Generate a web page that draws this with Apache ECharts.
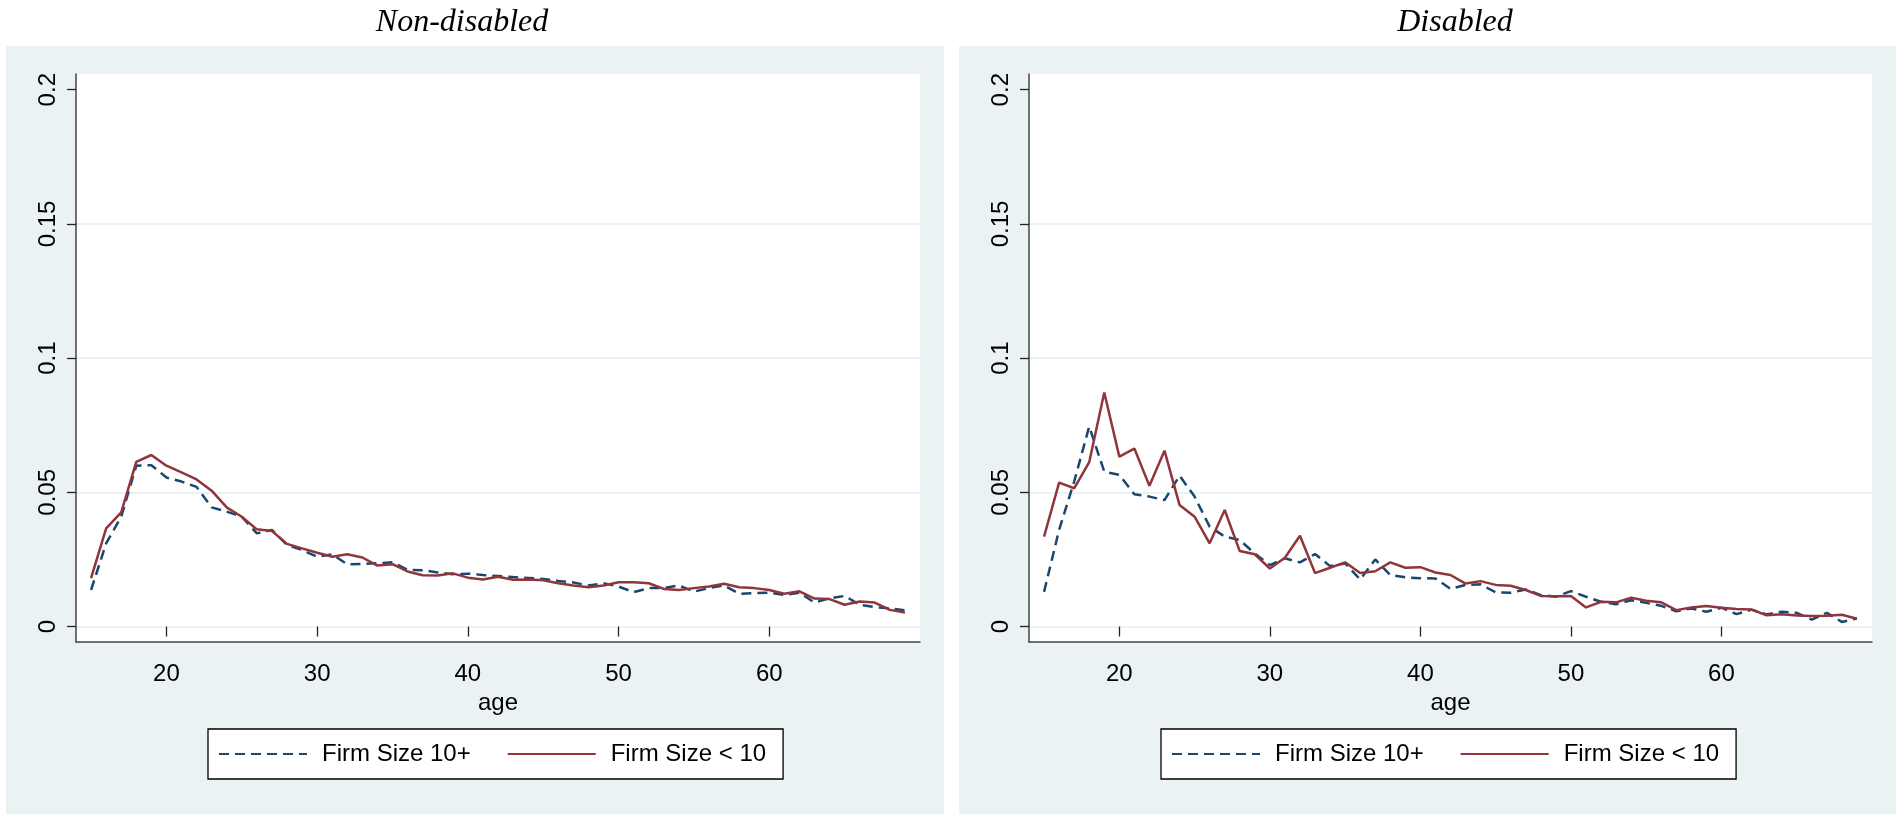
<!DOCTYPE html>
<html>
<head>
<meta charset="utf-8">
<title>Firm size by age</title>
<script src="https://cdn.jsdelivr.net/npm/echarts@6/dist/echarts.min.js"></script>
<style>
  html, body { margin: 0; padding: 0; background: #fff; }
  #chart { width: 1902px; height: 814px; }
</style>
</head>
<body>
<div id="chart"></div>
<script>
const ages = [15, 16, 17, 18, 19, 20, 21, 22, 23, 24, 25, 26, 27, 28, 29, 30, 31, 32, 33, 34, 35,
  36, 37, 38, 39, 40, 41, 42, 43, 44, 45, 46, 47, 48, 49, 50, 51, 52, 53, 54, 55,
  56, 57, 58, 59, 60, 61, 62, 63, 64, 65, 66, 67, 68, 69];

// Non-disabled
const nonDisBig = [0.0136, 0.031, 0.0409, 0.0599, 0.0601, 0.0555, 0.054, 0.052, 0.0444, 0.0428, 0.0409,
  0.0347, 0.036, 0.0304, 0.0285, 0.026, 0.0269, 0.0232, 0.0233, 0.0236, 0.0239,
  0.0211, 0.021, 0.0201, 0.0195, 0.0197, 0.0192, 0.0188, 0.0184, 0.0181, 0.0177,
  0.017, 0.0164, 0.0153, 0.0161, 0.0149, 0.0128, 0.0143, 0.0143, 0.0153, 0.013,
  0.0143, 0.0153, 0.0122, 0.0124, 0.0126, 0.0118, 0.0126, 0.0089, 0.0105, 0.0114,
  0.0081, 0.0072, 0.0068, 0.006];
const nonDisSmall = [0.018, 0.0366, 0.0425, 0.0613, 0.0639, 0.0599, 0.0574, 0.0548, 0.0506, 0.0444, 0.0409,
  0.0362, 0.0356, 0.0308, 0.0291, 0.0275, 0.026, 0.0269, 0.0257, 0.0227, 0.0232,
  0.0205, 0.0191, 0.019, 0.0198, 0.0182, 0.0175, 0.0185, 0.0174, 0.0175, 0.0172,
  0.0161, 0.0153, 0.0146, 0.0153, 0.0165, 0.0165, 0.0161, 0.014, 0.0136, 0.0143,
  0.0149, 0.0159, 0.0146, 0.0143, 0.0136, 0.0122, 0.0131, 0.0104, 0.0102, 0.0081,
  0.0093, 0.0089, 0.0062, 0.0052];

// Disabled
const disBig = [0.0129, 0.036, 0.054, 0.0745, 0.0577, 0.0565, 0.0493, 0.0484, 0.0471, 0.0562, 0.0484,
  0.0372, 0.0335, 0.0322, 0.0272, 0.0229, 0.0254, 0.0239, 0.027, 0.0225, 0.0235,
  0.0175, 0.025, 0.0192, 0.0183, 0.018, 0.0179, 0.014, 0.0155, 0.0157, 0.0127,
  0.0126, 0.0138, 0.0117, 0.0111, 0.0132, 0.0111, 0.0092, 0.0083, 0.0098, 0.0088,
  0.0077, 0.0057, 0.0067, 0.0055, 0.007, 0.0046, 0.0063, 0.0045, 0.0055, 0.0051,
  0.0026, 0.0051, 0.0017, 0.003];
const disSmall = [0.0335, 0.0536, 0.0515, 0.0612, 0.0872, 0.0633, 0.0663, 0.0524, 0.0655, 0.0453, 0.0409,
  0.031, 0.0434, 0.0281, 0.0269, 0.0216, 0.0256, 0.0338, 0.0199, 0.0219, 0.0239,
  0.0199, 0.0206, 0.0239, 0.0219, 0.0221, 0.0201, 0.0192, 0.016, 0.0169, 0.0155,
  0.0152, 0.0136, 0.0114, 0.0113, 0.0114, 0.0071, 0.0092, 0.009, 0.0107, 0.0096,
  0.009, 0.0061, 0.0071, 0.0076, 0.007, 0.0065, 0.0063, 0.0042, 0.0046, 0.0041,
  0.0039, 0.004, 0.0044, 0.0029];

const panelTitles = ["Non-disabled", "Disabled"];
const seriesNames = ["Firm Size 10+", "Firm Size < 10"];
const xTicks = [20, 30, 40, 50, 60];

const FONT = '"Liberation Sans", Arial, sans-serif';
const BLUE = "#1a476f";
const RED = "#90353b";
const PANEL_BG = "#eaf2f3";

const pairs = (vals) => ages.map((a, i) => [a, vals[i]]);

// panel geometry (px)
const panels = [
  { bgLeft: 6, bgWidth: 938, plotLeft: 76, plotWidth: 844, titleX: 457 },
  { bgLeft: 959, bgWidth: 937, plotLeft: 1029, plotWidth: 843, titleX: 1450 }
];
const plotTop = 74, plotBottom = 642;       // white box + axis lines
const dataTop = 89.7, dataBottom = 626.5;   // y=0.2 .. y=0

const grids = [], xAxes = [], yAxes = [], legends = [], titles = [];

panels.forEach((p, k) => {
  // background grid: white plot region + axis lines
  grids.push({ left: p.plotLeft, top: plotTop, width: p.plotWidth, height: plotBottom - plotTop,
    show: true, backgroundColor: "#fff", borderWidth: 0, z: -5 });
  // data grid
  grids.push({ left: p.plotLeft, top: dataTop, width: p.plotWidth, height: dataBottom - dataTop,
    show: false });

  xAxes.push({ gridIndex: 2 * k, type: "value", min: 0, max: 1,
    axisLine: { show: true, lineStyle: { color: "#444", width: 1.5 } },
    axisTick: { show: false }, axisLabel: { show: false }, splitLine: { show: false } });
  yAxes.push({ gridIndex: 2 * k, type: "value", min: 0, max: 1,
    axisLine: { show: true, lineStyle: { color: "#444", width: 1.5 } },
    axisTick: { show: false }, axisLabel: { show: false }, splitLine: { show: false } });

  xAxes.push({ gridIndex: 2 * k + 1, type: "value", min: 14, max: 70,
    offset: plotBottom - dataBottom,
    name: "age", nameLocation: "middle", nameGap: 43,
    nameTextStyle: { fontFamily: FONT, fontSize: 24, color: "#000" },
    axisLine: { show: false },
    axisTick: { show: true, length: 10, customValues: xTicks, lineStyle: { color: "#222", width: 1.3 } },
    axisLabel: { customValues: xTicks, margin: 20, fontFamily: FONT, fontSize: 24, color: "#000" },
    splitLine: { show: false } });
  yAxes.push({ gridIndex: 2 * k + 1, type: "value", min: 0, max: 0.2, interval: 0.05,
    axisLine: { show: false },
    axisTick: { show: true, length: 9, lineStyle: { color: "#222", width: 1.3 } },
    axisLabel: { rotate: 90, margin: 16, fontFamily: FONT, fontSize: 24, color: "#000",
      formatter: (v) => String(parseFloat(v.toFixed(2))) },
    splitLine: { show: true, showMaxLine: false, lineStyle: { color: PANEL_BG, width: 2 } } });

  titles.push({ text: panelTitles[k], left: p.titleX, textAlign: "center", top: 2,
    textStyle: { fontFamily: '"Liberation Serif", "Times New Roman", serif', fontStyle: "italic",
      fontWeight: "normal", fontSize: 32, color: "#000" } });

  legends.push({ left: p.plotLeft + 132, top: 729, orient: "horizontal", data: seriesNames,
    itemWidth: 88, itemHeight: 14, itemGap: 36,
    itemStyle: { opacity: 0 },
    padding: [13, 17, 13, 10], borderColor: "#000", borderWidth: 1.3, backgroundColor: "#fff",
    textStyle: { fontFamily: FONT, fontSize: 24, color: "#000", padding: [0, 0, 0, 10] } });
});

const panelData = [[nonDisBig, nonDisSmall], [disBig, disSmall]];
const series = [];
panelData.forEach((pd, k) => {
  series.push({ type: "line", name: seriesNames[0], xAxisIndex: 2 * k + 1, yAxisIndex: 2 * k + 1,
    data: pairs(pd[0]), symbol: "none", z: 3,
    itemStyle: { color: BLUE },
    lineStyle: { color: BLUE, width: 2.5, type: [10, 6] } });
  series.push({ type: "line", name: seriesNames[1], xAxisIndex: 2 * k + 1, yAxisIndex: 2 * k + 1,
    data: pairs(pd[1]), symbol: "none", z: 4,
    itemStyle: { color: RED },
    lineStyle: { color: RED, width: 2.5 } });
});

const chart = echarts.init(document.getElementById("chart"), null, { renderer: "canvas" });
chart.setOption({
  animation: false,
  backgroundColor: "#fff",
  graphic: panels.map((p) => ({ type: "rect", z: -10, silent: true,
    shape: { x: p.bgLeft, y: 46, width: p.bgWidth, height: 768 },
    style: { fill: PANEL_BG } })),
  title: titles,
  legend: legends,
  grid: grids,
  xAxis: xAxes,
  yAxis: yAxes,
  series: series
});
</script>
</body>
</html>
